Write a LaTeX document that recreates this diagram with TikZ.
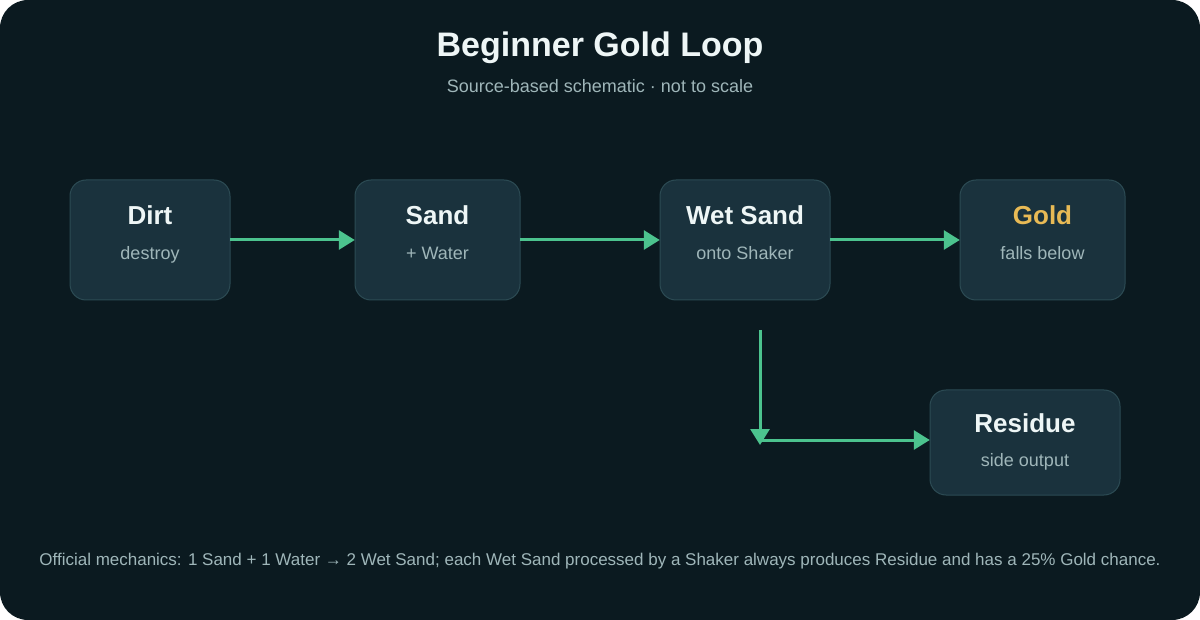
\documentclass[tikz,border=0pt]{standalone}
\usepackage{fontspec}
\setmainfont{Liberation Sans}
\usetikzlibrary{arrows.meta}
\definecolor{bgc}{HTML}{0B1A20}
\definecolor{boxfill}{HTML}{1A323D}
\definecolor{boxline}{HTML}{2C4B54}
\definecolor{arrowc}{HTML}{4CC38E}
\definecolor{titlec}{HTML}{EEF6F6}
\definecolor{subc}{HTML}{9FB6B9}
\definecolor{goldc}{HTML}{E8BA55}
\tikzset{
  stepbox/.style={draw=boxline, line width=1pt, fill=boxfill, rounded corners=16pt},
  boxtitle/.style={anchor=base, font=\fontsize{26}{30}\selectfont\bfseries, text=titlec},
  boxsub/.style={anchor=base, font=\fontsize{18}{21}\selectfont, text=subc},
  flow/.style={draw=arrowc, line width=3pt, -{Triangle[length=16pt,width=19pt]}},
}
\begin{document}
\begin{tikzpicture}[x=1pt,y=-1pt]
\useasboundingbox (0,0) rectangle (1200,620);
\fill[white] (0,0) rectangle (1200,620);
\fill[bgc, rounded corners=28pt] (0,0) rectangle (1200,620);

\node[anchor=base, font=\fontsize{34}{40}\selectfont\bfseries, text=titlec] (title) at (600,57) {Beginner Gold Loop};
\node[anchor=base, font=\fontsize{18}{21}\selectfont, text=subc] (subtitle) at (600,93) {Source-based schematic · not to scale};

% boxes
\draw[stepbox] (70,180) rectangle (230,300);
\node[minimum width=160pt, minimum height=120pt, inner sep=0] (dirt) at (150,240) {};
\node[boxtitle] (dirtT) at (150,225) {Dirt};
\node[boxsub] (dirtS) at (150,260) {destroy};

\draw[stepbox] (355,180) rectangle (520,300);
\node[minimum width=165pt, minimum height=120pt, inner sep=0] (sand) at (437.5,240) {};
\node[boxtitle] (sandT) at (437.5,225) {Sand};
\node[boxsub] (sandS) at (437.5,260) {+ Water};

\draw[stepbox] (660,180) rectangle (830,300);
\node[minimum width=170pt, minimum height=120pt, inner sep=0] (wet) at (745,240) {};
\node[boxtitle] (wetT) at (745,225) {Wet Sand};
\node[boxsub] (wetS) at (745,260) {onto Shaker};

\draw[stepbox] (960,180) rectangle (1125,300);
\node[minimum width=165pt, minimum height=120pt, inner sep=0] (gold) at (1042.5,240) {};
\node[boxtitle, text=goldc] (goldT) at (1042.5,225) {Gold};
\node[boxsub] (goldS) at (1042.5,260) {falls below};

\draw[stepbox] (930,390) rectangle (1120,495);
\node[minimum width=190pt, minimum height=105pt, inner sep=0] (res) at (1025,442.5) {};
\node[boxtitle] (resT) at (1025,432) {Residue};
\node[boxsub] (resS) at (1025,466) {side output};

% connectors
\draw[flow] (dirt.east) -- (sand.west);
\draw[flow] (sand.east) -- (wet.west);
\draw[flow] (wet.east) -- (gold.west);
\coordinate (vtop) at (760,330);
\coordinate (vbot) at (760,445);
\coordinate (hstart) at (760,440);
\draw[flow] (vtop) -- (vbot);
\draw[flow] (hstart) -- (res.west |- hstart);

\node[anchor=base, font=\fontsize{17}{20}\selectfont, text=subc] (note) at (600,565) {Official mechanics: 1 Sand + 1 Water → 2 Wet Sand; each Wet Sand processed by a Shaker always produces Residue and has a 25\% Gold chance.};
\end{tikzpicture}
\end{document}
